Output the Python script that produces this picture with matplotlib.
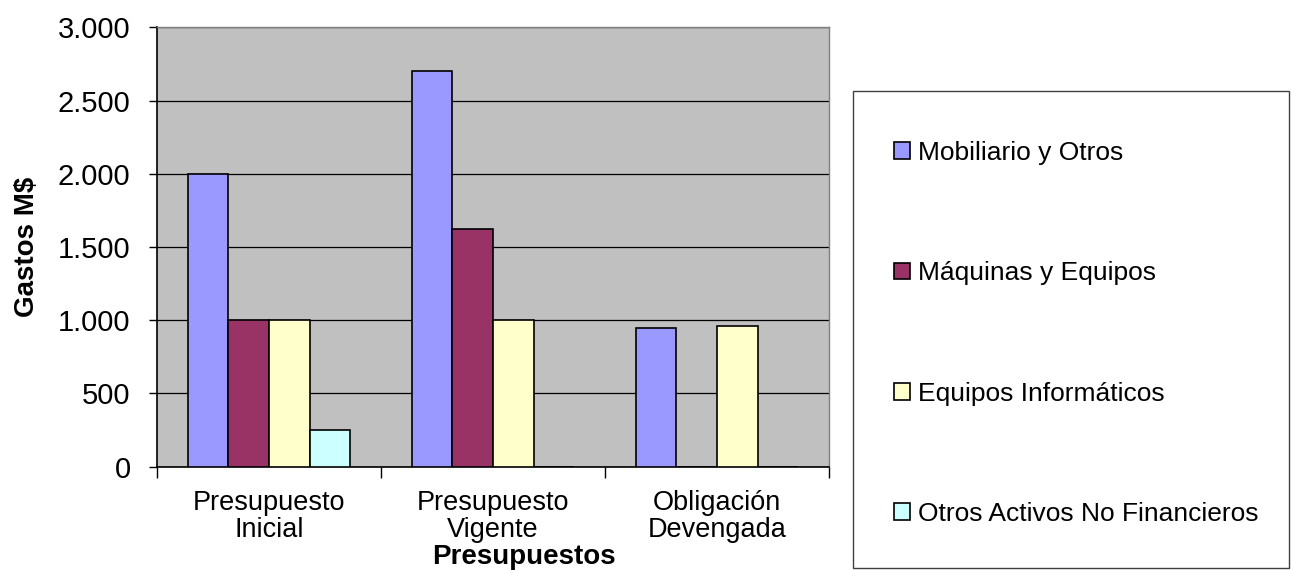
import matplotlib
matplotlib.use("Agg")
import matplotlib.pyplot as plt
from matplotlib.patches import Patch, Rectangle
from matplotlib.ticker import FuncFormatter
import numpy as np

# Budget stages (x groups) and spending series, in M$
stages = ["Presupuesto\nInicial", "Presupuesto\nVigente", "Obligación\nDevengada"]
series_names = ["Mobiliario y Otros", "Máquinas y Equipos",
                "Equipos Informáticos", "Otros Activos No Financieros"]
mobiliario = [2000, 2700, 950]
maquinas = [1000, 1620, 0]
informaticos = [1000, 1000, 960]
otros_activos = [250, 0, 0]
y_ticks = [0, 500, 1000, 1500, 2000, 2500, 3000]

colors = ["#9999FF", "#993366", "#FFFFCC", "#CCFFFF"]

plt.rcParams['font.family'] = ['Liberation Sans', 'DejaVu Sans']

fig = plt.figure(figsize=(12.91, 5.70), dpi=100)
ax = fig.add_axes([157 / 1291, 1 - 466.7 / 570, 672 / 1291, 439.4 / 570])
ax.set_facecolor("#C0C0C0")

values = [mobiliario, maquinas, informaticos, otros_activos]
x = np.arange(len(stages))
width = 1 / 5.5  # four bars plus a 150% gap per group
for i, (vals, col) in enumerate(zip(values, colors)):
    ax.bar(x + (i - 1.5) * width, vals, width, color=col,
           edgecolor="black", linewidth=1.2, zorder=3)

ax.set_xlim(-0.5, 2.5)
ax.set_ylim(0, 3000)

# horizontal gridlines
ax.set_yticks(y_ticks)
ax.yaxis.set_major_formatter(FuncFormatter(lambda v, p: f"{int(v):,}".replace(",", ".")))
ax.grid(axis="y", color="black", linewidth=0.9, zorder=1)
ax.tick_params(axis="y", direction="out", length=6, width=1, pad=13, labelsize=21)

# category labels in the middle, tick marks on the group boundaries
ax.set_xticks(x)
ax.set_xticklabels(stages, fontsize=19.5, linespacing=1.05)
ax.set_xticks(np.arange(-0.5, 3.0, 1.0), minor=True)
ax.tick_params(axis="x", which="major", length=0, pad=17)
ax.tick_params(axis="x", which="minor", direction="out", length=8, width=1)

for side in ["left", "bottom"]:
    ax.spines[side].set_color("black")
    ax.spines[side].set_linewidth(1.2)
for side in ["top", "right"]:
    ax.spines[side].set_color("#808080")
    ax.spines[side].set_linewidth(1.0)

ax.set_ylabel("Gastos M$", fontsize=20, fontweight="bold")
ax.yaxis.set_label_coords(-0.174, 0.5)
fig.text(524 / 1291, 6 / 570, "Presupuestos", fontsize=20, fontweight="bold",
         ha="center", va="baseline")

# legend box on the right
fig.patches.append(Rectangle((853 / 1291, 2 / 570), 436 / 1291, 477 / 570,
                             transform=fig.transFigure, facecolor="white",
                             edgecolor="#404040", linewidth=1.0, zorder=0))
handles = [Patch(facecolor=c, edgecolor="black", linewidth=1.2) for c in colors]
fig.legend(handles, series_names, loc="upper left",
           bbox_to_anchor=(894 / 1291, 1 - 141 / 570), frameon=False,
           fontsize=19, handlelength=0.6, handleheight=0.6,
           handletextpad=0.3, labelspacing=3.65, borderpad=0, borderaxespad=0)

fig.savefig("out.png", dpi=100)
